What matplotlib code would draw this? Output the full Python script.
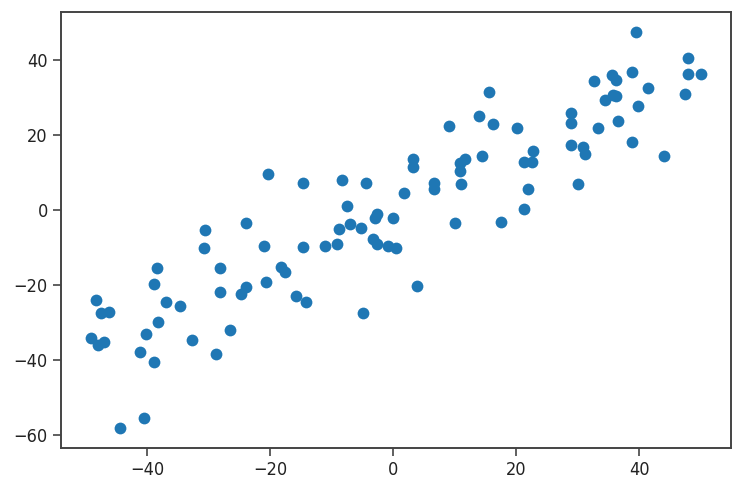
import matplotlib
matplotlib.use("Agg")
import matplotlib.pyplot as plt

x_values = [
    -49.1, -48.3, -48.0, -47.5, -47.0, -46.2, -44.4, -41.2, -40.2, -40.5,
    -38.5, -38.9, -38.9, -38.3, -36.9, -34.7, -32.8, -30.6, -30.8, -28.2,
    -28.2, -28.9, -26.5, -23.9, -24.8, -23.9, -20.4, -21.1, -20.7, -18.3,
    -17.6, -15.9, -14.6, -14.6, -14.2, -11.1, -9.1, -8.4, -8.8, -7.5,
    -7.1, -5.3, -4.5, -4.9, -3.3, -2.7, -3.0, -2.6, -0.9, 0.4,
    0.0, 1.8, 3.9, 3.2, 3.2, 6.7, 6.7, 9.1, 10.0, 10.9,
    10.9, 11.1, 11.7, 14.5, 13.9, 15.5, 16.2, 17.5, 20.1, 21.2,
    21.3, 22.5, 22.0, 22.8, 28.9, 28.9, 28.9, 30.0, 30.9, 31.2,
    32.7, 33.3, 34.4, 35.7, 35.6, 36.3, 36.6, 38.9, 38.9, 39.5,
    39.8, 41.4, 44.0, 47.4, 47.9, 47.9, 50.0, 36.3,
]
y_values = [
    -34.1, -24.0, -36.0, -27.5, -35.1, -27.1, -58.1, -37.8, -32.9, -55.4,
    -15.4, -19.7, -40.5, -29.8, -24.5, -25.5, -34.7, -5.3, -10.1, -15.5,
    -21.8, -38.4, -32.0, -3.5, -22.4, -20.6, 9.6, -9.6, -19.1, -15.2,
    -16.5, -22.9, 7.1, -9.9, -24.5, -9.5, -9.1, 8.0, -5.1, 1.1,
    -3.7, -4.7, 7.1, -27.5, -7.8, -1.1, -2.2, -8.9, -9.6, -10.2,
    -2.1, 4.5, -20.3, 13.5, 11.5, 7.1, 5.5, 22.5, -3.5, 12.5,
    10.5, 6.9, 13.5, 14.4, 25.1, 31.4, 22.9, -3.1, 21.9, 12.9,
    0.2, 12.9, 5.5, 15.7, 25.8, 23.1, 17.3, 7.0, 16.8, 15.0,
    34.3, 21.9, 29.4, 30.6, 35.9, 34.6, 23.7, 36.8, 18.1, 47.5,
    27.7, 32.6, 14.4, 31.0, 40.6, 36.3, 36.3, 30.4,
]
x_ticks = [-40, -20, 0, 20, 40]
y_ticks = [-60, -40, -20, 0, 20, 40]

fig = plt.figure(figsize=(7.5, 4.84), dpi=100)
ax = fig.add_axes([0.0813, 0.0744, 0.9747 - 0.0813, 0.9752 - 0.0744])
ax.scatter(x_values, y_values, s=72, color="#1f77b4", linewidths=0)
ax.set_xticks(x_ticks)
ax.set_yticks(y_ticks)
for sp in ax.spines.values():
    sp.set_color("#444444")
    sp.set_linewidth(1.4)
ax.tick_params(axis="both", length=5.5, width=1.2, color="#444444",
               labelsize=13, labelcolor="#222222", pad=4)
for lab in ax.get_xticklabels() + ax.get_yticklabels():
    lab.set_fontstretch("condensed")
    lab.set_family(["DejaVu Sans"])
fig.savefig("out.png", dpi=100)
